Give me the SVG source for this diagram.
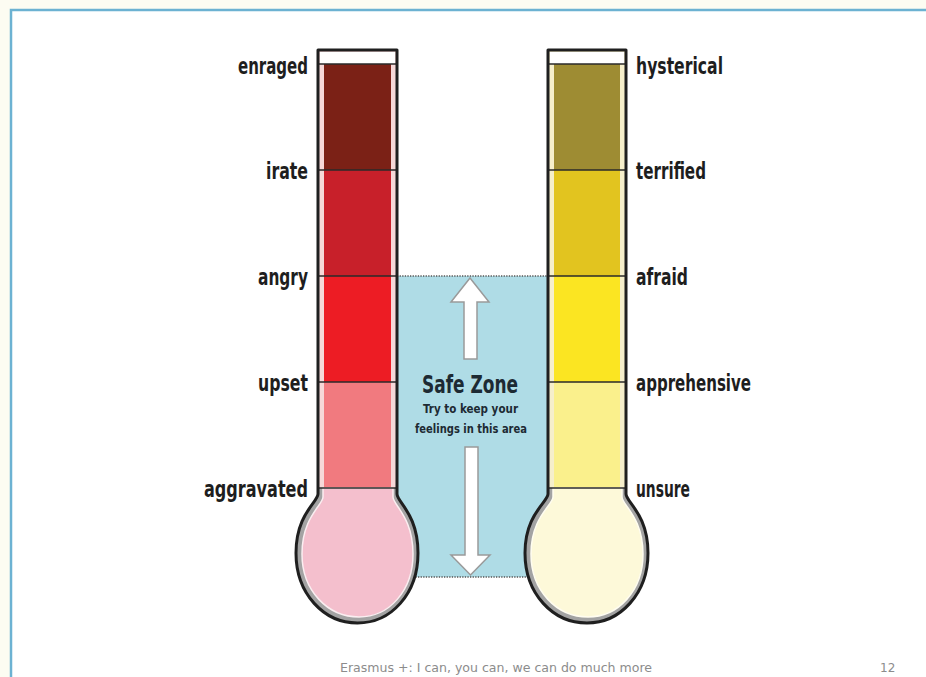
<svg xmlns="http://www.w3.org/2000/svg" width="926" height="677" viewBox="0 0 926 677">
<defs>
<style>
.lbl{font-family:"DejaVu Sans Condensed","DejaVu Sans","Liberation Sans",sans-serif;font-weight:bold;font-size:23px;fill:#1e1e1e;}
.outline{fill:none;stroke:#1f1f1f;stroke-width:3;stroke-linejoin:round;}
.div{stroke:#2a2a2a;stroke-width:1.5;}
.arrow{fill:#ffffff;stroke:#9a9a9a;stroke-width:1.5;}
.dots{stroke:#555;stroke-width:1.6;stroke-dasharray:1.3 1.3;fill:none;}
.sz{font-family:"DejaVu Sans Condensed","DejaVu Sans","Liberation Sans",sans-serif;fill:#1d2a33;text-anchor:middle;}
.foot{font-family:"DejaVu Sans","Liberation Sans",sans-serif;font-size:12px;fill:#8c8c8c;}
</style>
</defs>
<rect x="0" y="0" width="926" height="677" fill="#fcfcf2"/>
<rect x="11" y="10" width="940" height="700" fill="#ffffff" stroke="#6cb2d2" stroke-width="2.5"/>

<g id="safe-zone">
<rect x="397" y="276" width="151" height="301" fill="#afdce6"/>
<line class="dots" x1="397" y1="276" x2="548" y2="276"/>
<line class="dots" x1="405" y1="577" x2="540" y2="577"/>
<polygon class="arrow" points="470,278 489,302 477,302 477,359 464,359 464,302 451,302"/>
<polygon class="arrow" points="465,447 478,447 478,555 490,555 470.5,575 451,555 465,555"/>
<text class="sz" x="470" y="393" font-size="24" font-weight="bold" textLength="96" lengthAdjust="spacingAndGlyphs">Safe Zone</text>
<text class="sz" x="470.5" y="413" font-size="13" font-weight="bold" textLength="95" lengthAdjust="spacingAndGlyphs">Try to keep your</text>
<text class="sz" x="471" y="433" font-size="13" font-weight="bold" textLength="112" lengthAdjust="spacingAndGlyphs">feelings in this area</text>
</g>

<g id="thermometer-anger">
<path d="M318,50 L397,50 L397,494 C397,502 418,514 418,553 C418,594 391,623 357.5,623 C324,623 296,594 296,553 C296,514 318,502 318,494 Z" fill="#f6d8d8"/>
<rect x="320" y="52" width="75" height="12" fill="#ffffff"/>
<rect x="324" y="64" width="67" height="106" fill="#7b2116"/>
<rect x="324" y="170" width="67" height="106" fill="#c8202a"/>
<rect x="324" y="276" width="67" height="106" fill="#ed1c24"/>
<rect x="324" y="382" width="67" height="106" fill="#f17a7f"/>
<path d="M318,488 L397,488 L397,494 C397,502 418,514 418,553 C418,594 391,623 357.5,623 C324,623 296,594 296,553 C296,514 318,502 318,494 Z" fill="#a3a3a3"/>
<path d="M323,488 L393,488 L393,497 C393,505 413,517 413,554 C413,591 389,617 359,617 C328,617 302,591 302,554 C302,517 323,505 323,497 Z" fill="#f4bfcd" stroke="#fbeef1" stroke-width="1.5"/>
<line class="div" x1="319" y1="64" x2="396" y2="64"/>
<line class="div" x1="319" y1="170" x2="396" y2="170"/>
<line class="div" x1="319" y1="276" x2="396" y2="276"/>
<line class="div" x1="319" y1="382" x2="396" y2="382"/>
<line class="div" x1="319" y1="488" x2="396" y2="488"/>
<path class="outline" d="M318,50 L397,50 L397,494 C397,502 418,514 418,553 C418,594 391,623 357.5,623 C324,623 296,594 296,553 C296,514 318,502 318,494 Z"/>
<text class="lbl" x="308" y="74" text-anchor="end" textLength="70" lengthAdjust="spacingAndGlyphs">enraged</text>
<text class="lbl" x="308" y="179" text-anchor="end" textLength="42" lengthAdjust="spacingAndGlyphs">irate</text>
<text class="lbl" x="308" y="285" text-anchor="end" textLength="50" lengthAdjust="spacingAndGlyphs">angry</text>
<text class="lbl" x="308" y="391" text-anchor="end" textLength="50" lengthAdjust="spacingAndGlyphs">upset</text>
<text class="lbl" x="308" y="497" text-anchor="end" textLength="104" lengthAdjust="spacingAndGlyphs">aggravated</text>
</g>

<g id="thermometer-fear">
<path d="M548,50 L626,50 L626,494 C626,502 648,514 648,553 C648,594 620,623 587,623 C553,623 525,594 525,553 C525,514 548,502 548,494 Z" fill="#f6efcb"/>
<rect x="550" y="52" width="74" height="12" fill="#ffffff"/>
<rect x="554" y="64" width="66" height="106" fill="#9e8c33"/>
<rect x="554" y="170" width="66" height="106" fill="#e2c41f"/>
<rect x="554" y="276" width="66" height="106" fill="#fbe522"/>
<rect x="554" y="382" width="66" height="106" fill="#faf08c"/>
<path d="M548,488 L626,488 L626,494 C626,502 648,514 648,553 C648,594 620,623 587,623 C553,623 525,594 525,553 C525,514 548,502 548,494 Z" fill="#a3a3a3"/>
<path d="M553,488 L622,488 L622,497 C622,505 643,517 643,554 C643,591 618,617 588,617 C557,617 531,591 531,554 C531,517 553,505 553,497 Z" fill="#fdf9d9" stroke="#fffdf0" stroke-width="1.5"/>
<line class="div" x1="549" y1="64" x2="625" y2="64"/>
<line class="div" x1="549" y1="170" x2="625" y2="170"/>
<line class="div" x1="549" y1="276" x2="625" y2="276"/>
<line class="div" x1="549" y1="382" x2="625" y2="382"/>
<line class="div" x1="549" y1="488" x2="625" y2="488"/>
<path class="outline" d="M548,50 L626,50 L626,494 C626,502 648,514 648,553 C648,594 620,623 587,623 C553,623 525,594 525,553 C525,514 548,502 548,494 Z"/>
<text class="lbl" x="636" y="74" textLength="87" lengthAdjust="spacingAndGlyphs">hysterical</text>
<text class="lbl" x="636" y="179" textLength="70" lengthAdjust="spacingAndGlyphs">terrified</text>
<text class="lbl" x="636" y="285" textLength="52" lengthAdjust="spacingAndGlyphs">afraid</text>
<text class="lbl" x="636" y="391" textLength="115" lengthAdjust="spacingAndGlyphs">apprehensive</text>
<text class="lbl" x="636" y="497" textLength="54" lengthAdjust="spacingAndGlyphs">unsure</text>
</g>

<g id="connectors"></g>

<g id="footer">
<text class="foot" x="340" y="672" textLength="312" lengthAdjust="spacingAndGlyphs">Erasmus +: I can, you can, we can do much more</text>
<text class="foot" x="880" y="672">12</text>
</g>
</svg>
